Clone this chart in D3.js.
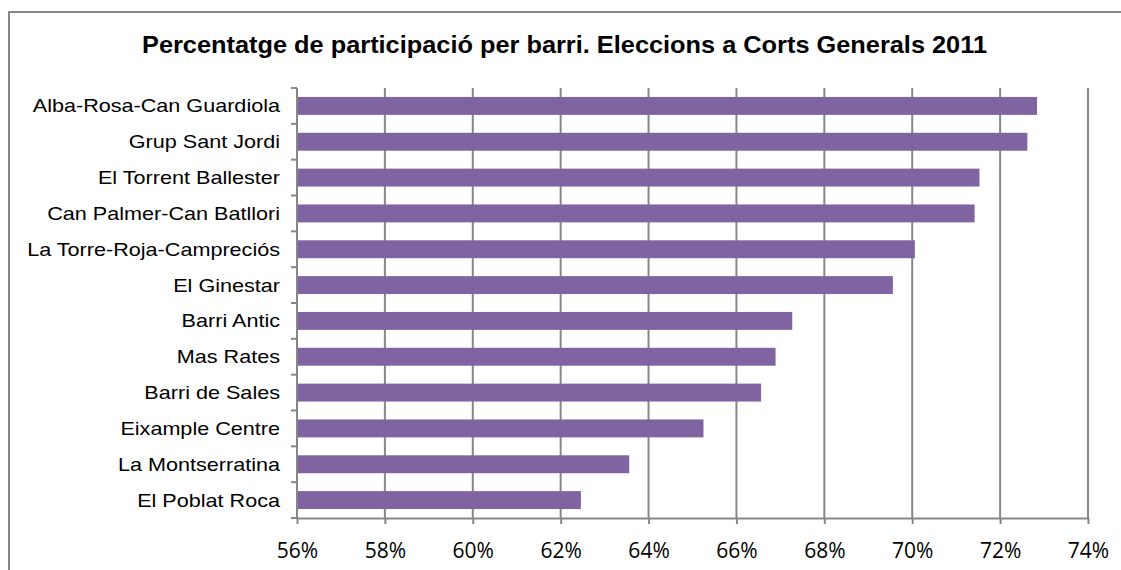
<!DOCTYPE html>
<html>
<head>
<meta charset="utf-8">
<script src="https://cdn.jsdelivr.net/npm/d3@7"></script>
<style>
  html, body { margin: 0; padding: 0; background: #fff; }
  svg { display: block; }
  text { fill: #000; }
</style>
</head>
<body>
<svg id="chart" width="1121" height="570"></svg>
<script>
const title = "Percentatge de participació per barri. Eleccions a Corts Generals 2011";
const categories = [
  "Alba-Rosa-Can Guardiola", "Grup Sant Jordi", "El Torrent Ballester",
  "Can Palmer-Can Batllori", "La Torre-Roja-Campreciós", "El Ginestar",
  "Barri Antic", "Mas Rates", "Barri de Sales", "Eixample Centre",
  "La Montserratina", "El Poblat Roca"
];
const values = [72.84, 72.62, 71.53, 71.42, 70.06, 69.56, 67.27, 66.89, 66.56, 65.25, 63.56, 62.46];
const xTicks = [56, 58, 60, 62, 64, 66, 68, 70, 72, 74];
const xDomain = [56, 74];

const svg = d3.select("#chart");
const W = 1121, H = 570;
const plot = { left: 297, right: 1088, top: 88, bottom: 518 };
const gridColor = "#878787";
const sans = "'Liberation Sans', Arial, sans-serif";

// outer border (chart area, cropped at right and bottom)
svg.append("rect")
  .attr("x", 9).attr("y", 12).attr("width", W + 20).attr("height", H + 20)
  .attr("fill", "none").attr("stroke", gridColor).attr("stroke-width", 2);

// title
svg.append("text")
  .attr("x", 142).attr("y", 53)
  .attr("text-anchor", "start")
  .style("font-family", sans)
  .style("font-size", "24px").style("font-weight", "bold")
  .attr("textLength", 845).attr("lengthAdjust", "spacingAndGlyphs")
  .text(title);

const x = d3.scaleLinear().domain(xDomain).range([plot.left, plot.right]);
const y = d3.scaleBand().domain(categories).range([plot.top, plot.bottom])
  .paddingInner(0.5).paddingOuter(0.25);

// vertical gridlines
svg.append("g").selectAll("line").data(xTicks.slice(1)).join("line")
  .attr("x1", d => x(d)).attr("x2", d => x(d))
  .attr("y1", plot.top).attr("y2", plot.bottom)
  .attr("stroke", gridColor).attr("stroke-width", 2);

// bars
svg.append("g").selectAll("rect").data(values).join("rect")
  .attr("x", x(xDomain[0]))
  .attr("y", (d, i) => y(categories[i]))
  .attr("width", d => x(d) - x(xDomain[0]))
  .attr("height", y.bandwidth())
  .attr("fill", "#8064a2");

// bottom axis
const xAxis = svg.append("g").attr("transform", `translate(0,${plot.bottom})`)
  .call(d3.axisBottom(x).tickValues(xTicks).tickFormat(d => d + "%").tickSizeInner(6).tickSizeOuter(0));
xAxis.select(".domain").attr("stroke", gridColor).attr("stroke-width", 2);
xAxis.selectAll(".tick line").attr("stroke", gridColor).attr("stroke-width", 2);
xAxis.selectAll(".tick text")
  .style("font-family", "'Open Sans', sans-serif")
  .style("font-size", "21px").attr("fill", "#000")
  .attr("y", 40).attr("dy", 0);

// left axis: line + ticks at band boundaries
const bounds = categories.map(c => y(c) - y.step() * y.paddingInner() / 2).concat([plot.bottom]);
const yAxisG = svg.append("g");
yAxisG.append("line")
  .attr("x1", plot.left).attr("x2", plot.left)
  .attr("y1", plot.top).attr("y2", plot.bottom)
  .attr("stroke", gridColor).attr("stroke-width", 2);
yAxisG.selectAll("line.tk").data(bounds).join("line").attr("class", "tk")
  .attr("x1", plot.left - 6).attr("x2", plot.left)
  .attr("y1", d => d).attr("y2", d => d)
  .attr("stroke", gridColor).attr("stroke-width", 2);

// category labels (wide rendering)
yAxisG.selectAll("text").data(categories).join("text")
  .attr("transform", d => `translate(280,${y(d) + y.bandwidth() / 2}) scale(1.2,1)`)
  .attr("text-anchor", "end")
  .attr("dy", "0.36em")
  .style("font-family", sans)
  .style("font-size", "18px")
  .text(d => d);
</script>
</body>
</html>
